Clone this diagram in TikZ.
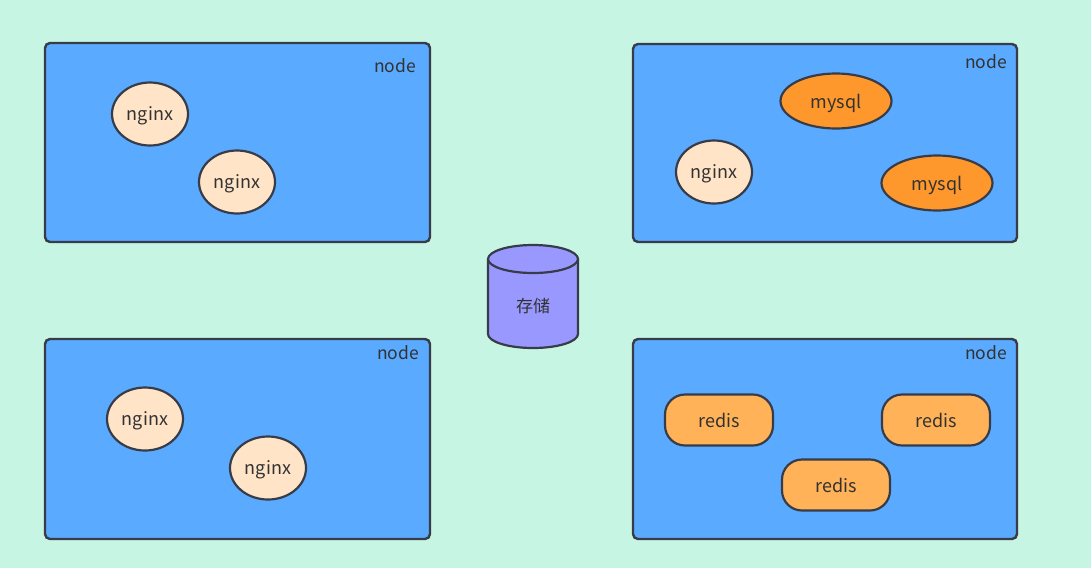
\documentclass[tikz,border=0pt]{standalone}
\usepackage{fontspec}
\setmainfont{Noto Sans CJK SC}
\usetikzlibrary{shapes.geometric}
\definecolor{bg}{RGB}{199,245,227}
\definecolor{boxfill}{RGB}{90,170,255}
\definecolor{edge}{RGB}{55,60,72}
\definecolor{nginxfill}{RGB}{255,228,200}
\definecolor{mysqlfill}{RGB}{255,152,44}
\definecolor{redisfill}{RGB}{255,178,88}
\definecolor{dbfill}{RGB}{152,152,255}
\definecolor{txt}{RGB}{50,50,50}
\tikzset{
  hostbox/.style={draw=edge, fill=boxfill, line width=2.4pt, rounded corners=5pt},
  hostlabel/.style={text=txt, font=\fontsize{17.5}{20}\selectfont},
  inner/.style={draw=edge, line width=2.2pt, inner sep=0pt, text=txt, font=\fontsize{18}{21}\selectfont, text depth=0pt},
  nginxnode/.style={inner, ellipse, fill=nginxfill, minimum width=76pt, minimum height=63pt},
  mysqlnode/.style={inner, ellipse, fill=mysqlfill, minimum width=111pt, minimum height=55pt},
  redisnode/.style={inner, rectangle, rounded corners=20pt, fill=redisfill, minimum width=108pt, minimum height=51pt},
  dbline/.style={draw=edge, line width=2.2pt, line join=round},
}
\begin{document}
\begin{tikzpicture}[x=1pt,y=-1pt]
\useasboundingbox[fill=bg] (0,0) rectangle (1091,568);
% host boxes
\draw[hostbox] (45,43) rectangle (430,242);
\draw[hostbox] (633,44) rectangle (1017,242);
\draw[hostbox] (45,339) rectangle (430,539);
\draw[hostbox] (633,339) rectangle (1017,539);
\node[hostlabel] (l1) at (395,66) {node};
\node[hostlabel] (l2) at (986,62) {node};
\node[hostlabel] (l3) at (398,353) {node};
\node[hostlabel] (l4) at (986,353) {node};
% top-left
\node[nginxnode] (n1) at (150,114) {nginx};
\node[nginxnode] (n2) at (237,182) {nginx};
% top-right
\node[nginxnode] (n3) at (714,172) {nginx};
\node[mysqlnode] (m1) at (836,101) {mysql};
\node[mysqlnode] (m2) at (937,183) {mysql};
% bottom-left
\node[nginxnode] (n4) at (145,419) {nginx};
\node[nginxnode] (n5) at (268,468) {nginx};
% bottom-right
\node[redisnode] (r1) at (719,420) {redis};
\node[redisnode] (r2) at (936,420) {redis};
\node[redisnode] (r3) at (836,485) {redis};
% storage cylinder
\fill[dbfill] (488,259) -- (488,334) arc[start angle=180, end angle=0, x radius=45, y radius=14] -- (578,259) -- cycle;
\draw[dbline] (488,259) -- (488,334) arc[start angle=180, end angle=0, x radius=45, y radius=14] -- (578,259);
\draw[dbline, fill=dbfill] (533,259) ellipse [x radius=45, y radius=14];
\node[text=txt, font=\fontsize{17}{20}\selectfont] (db) at (533,306) {存储};
\end{tikzpicture}
\end{document}
